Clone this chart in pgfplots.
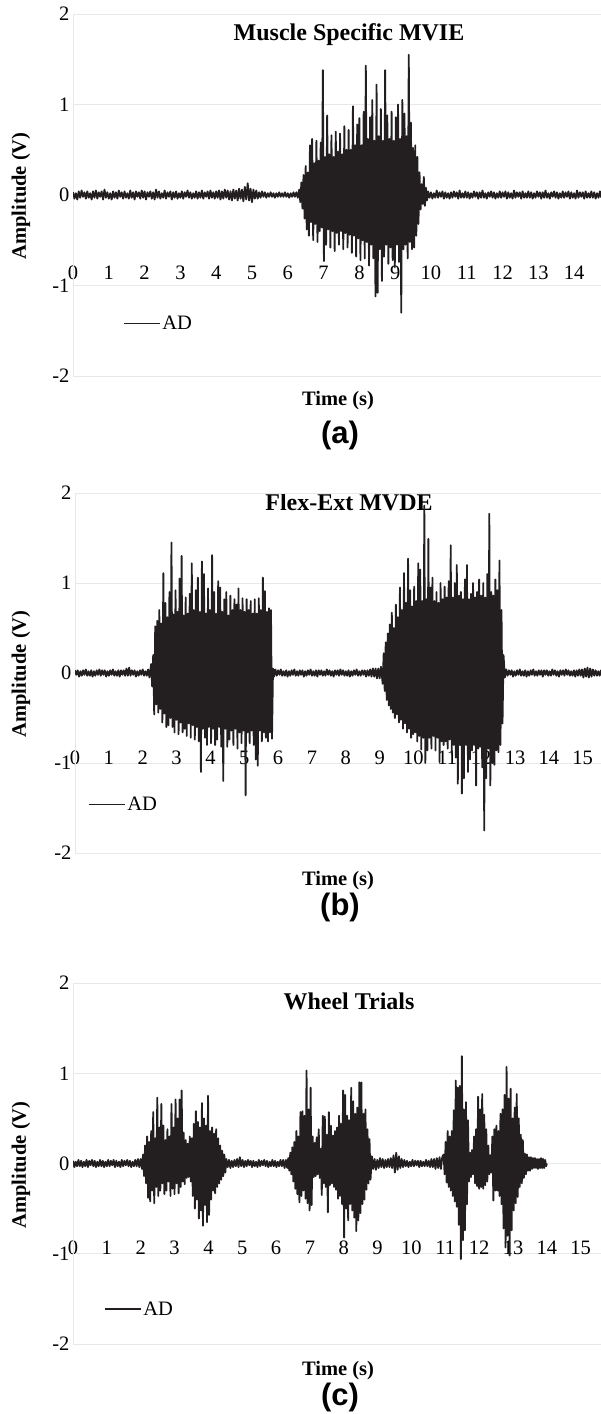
\documentclass[border=0pt]{standalone}
\usepackage{fontspec}
\setmainfont{Liberation Serif}
\newfontfamily\arialfont{Liberation Sans}
\usepackage{pgfplots}
\pgfplotsset{compat=1.18}
\definecolor{trace}{RGB}{35,31,32}
\definecolor{gridgray}{RGB}{232,232,232}

\pgfplotsset{
  emg/.style={
    scale only axis, anchor=south west,
    ymin=-2, ymax=2, xmin=0,
    ytick={-2,-1,0,1,2}, yticklabels={-2,-1,0,1,2},
    xtick={0,1,...,15}, xticklabels={0,1,2,3,4,5,6,7,8,9,10,11,12,13,14,15},
    ymajorgrids,
    major grid style={draw=gridgray, line width=1bp},
    axis line style={draw=none},
    major tick length=0pt, tick style={draw=none},
    ticklabel style={font=\fontsize{20.5bp}{20.5bp}\selectfont},
    xticklabel style={anchor=center},
    legend style={draw=none, fill=none, anchor=west, inner sep=0pt,
      font=\fontsize{20.5bp}{20.5bp}\selectfont},
    legend image code/.code={\draw[trace, line width=1.1bp] (0bp,0bp) -- (36bp,0bp);},
  },
  sig/.style={trace, line width=1.8bp, line join=round, mark=none},
}
\newcommand{\ttl}{\fontsize{24bp}{24bp}\selectfont\bfseries}
\newcommand{\lbl}{\fontsize{20.5bp}{20.5bp}\selectfont\bfseries}
\newcommand{\pnl}{\arialfont\fontsize{31bp}{31bp}\selectfont\bfseries}

\begin{document}
\begin{tikzpicture}
\useasboundingbox (0,0) rectangle (601bp,-1414bp);

% titles first so the trace is drawn over them
\node[anchor=base] at (349bp,-40bp) {\ttl Muscle Specific MVIE};
\node[anchor=base] at (349bp,-510bp) {\ttl Flex-Ext MVDE};
\node[anchor=base] at (349bp,-1009bp) {\ttl Wheel Trials};

% (a)
\begin{axis}[emg, at={(73bp,-376bp)}, width=528bp, height=362bp, xmax=14.75,
  xticklabel style={yshift=103.5bp},
  legend style={at={(0.0947,0.146)}}]
\draw[gridgray, line width=1bp] (axis cs:0,-2) -- (axis cs:0,2);
\addplot[sig] coordinates {
(0,0.03)(0.04,-0.04)(0.08,0.02)(0.12,-0.05)(0.16,0.04)(0.2,-0.03)(0.24,0.05)(0.28,-0.02)(0.32,0.03)(0.36,-0.04)
(0.4,0.04)(0.44,-0.03)(0.48,0.02)(0.52,-0.05)(0.56,0.04)(0.6,-0.03)(0.64,0.05)(0.68,-0.04)(0.72,0.03)(0.76,-0.02)
(0.8,0.04)(0.84,-0.05)(0.88,0.06)(0.92,-0.03)(0.96,0.03)(1,-0.04)(1.04,0.02)(1.08,-0.05)(1.12,0.04)(1.16,-0.03)
(1.2,0.03)(1.24,-0.04)(1.28,0.05)(1.32,-0.02)(1.36,0.03)(1.4,-0.04)(1.44,0.04)(1.48,-0.03)(1.52,0.02)(1.56,-0.04)
(1.6,0.05)(1.64,-0.03)(1.68,0.03)(1.72,-0.05)(1.76,0.04)(1.8,-0.02)(1.84,0.03)(1.88,-0.04)(1.92,0.05)(1.96,-0.03)
(2,0.04)(2.04,-0.05)(2.08,0.03)(2.12,-0.02)(2.16,0.04)(2.2,-0.04)(2.24,0.03)(2.28,-0.05)(2.32,0.06)(2.36,-0.03)
(2.4,0.04)(2.44,-0.04)(2.48,0.02)(2.52,-0.03)(2.56,0.05)(2.6,-0.04)(2.64,0.03)(2.68,-0.02)(2.72,0.04)(2.76,-0.05)
(2.8,0.03)(2.84,-0.03)(2.88,0.04)(2.92,-0.04)(2.96,0.02)(3,-0.03)(3.04,0.04)(3.08,-0.04)(3.12,0.03)(3.16,-0.02)
(3.2,0.05)(3.24,-0.03)(3.28,0.03)(3.32,-0.04)(3.36,0.02)(3.4,-0.03)(3.44,0.04)(3.48,-0.04)(3.52,0.03)(3.56,-0.03)
(3.6,0.05)(3.64,-0.04)(3.68,0.03)(3.72,-0.02)(3.76,0.04)(3.8,-0.04)(3.84,0.05)(3.88,-0.03)(3.92,0.03)(3.96,-0.04)
(4,0.04)(4.04,-0.03)(4.08,0.05)(4.12,-0.05)(4.16,0.04)(4.2,-0.04)(4.24,0.06)(4.28,-0.03)(4.32,0.05)(4.36,-0.05)
(4.4,0.04)(4.44,-0.06)(4.48,0.06)(4.52,-0.04)(4.56,0.05)(4.6,-0.06)(4.64,0.07)(4.68,-0.04)(4.72,0.06)(4.76,-0.07)
(4.8,0.09)(4.84,-0.05)(4.88,0.13)(4.92,-0.06)(4.96,0.07)(5,-0.08)(5.04,0.06)(5.08,-0.04)(5.12,0.05)(5.16,-0.04)
(5.2,0.03)(5.24,-0.03)(5.28,0.04)(5.32,-0.02)(5.36,0.03)(5.4,-0.03)(5.44,0.02)(5.48,-0.02)(5.52,0.03)(5.56,-0.02)
(5.6,0.02)(5.64,-0.03)(5.68,0.02)(5.72,-0.02)(5.76,0.03)(5.8,-0.02)(5.84,0.02)(5.88,-0.02)(5.92,0.03)(5.96,-0.02)
(6,0.02)(6.04,-0.03)(6.08,0.02)(6.12,-0.02)(6.16,0.03)(6.2,-0.02)(6.24,0.03)(6.28,-0.03)
(6.32,0.06)(6.35,-0.08)(6.38,0.14)(6.41,-0.15)(6.44,0.22)(6.47,-0.26)(6.5,0.32)(6.53,-0.38)(6.56,0.25)(6.59,-0.45)
(6.62,0.55)(6.65,-0.3)(6.68,0.62)(6.71,-0.5)(6.74,0.35)(6.77,-0.32)(6.8,0.6)(6.83,-0.52)(6.86,0.38)(6.89,-0.4)
(6.92,0.58)(6.95,-0.36)(6.98,1.38)(7.01,-0.73)(7.04,0.42)(7.07,-0.55)(7.1,0.88)(7.13,-0.38)(7.16,0.45)(7.19,-0.58)
(7.22,0.66)(7.25,-0.4)(7.28,0.42)(7.31,-0.62)(7.34,0.7)(7.37,-0.42)(7.4,0.48)(7.43,-0.55)(7.46,0.68)(7.49,-0.4)
(7.52,0.45)(7.55,-0.6)(7.58,0.76)(7.61,-0.42)(7.64,0.5)(7.67,-0.58)(7.7,0.72)(7.73,-0.44)(7.76,0.5)(7.79,-0.64)
(7.82,0.98)(7.85,-0.45)(7.88,0.55)(7.91,-0.68)(7.94,0.78)(7.97,-0.48)(8,0.85)(8.03,-0.72)(8.06,0.55)(8.09,-0.5)
(8.12,0.92)(8.15,-0.7)(8.18,1.43)(8.21,-0.52)(8.24,0.62)(8.27,-0.78)(8.3,0.86)(8.33,-0.55)(8.36,1.05)(8.39,-0.7)
(8.42,0.6)(8.45,-1.12)(8.48,1.22)(8.51,-1.08)(8.54,0.65)(8.57,-0.6)(8.6,0.95)(8.63,-0.95)(8.66,0.6)(8.69,-0.68)
(8.72,1.38)(8.75,-0.55)(8.78,0.88)(8.81,-0.76)(8.84,0.62)(8.87,-0.58)(8.9,0.92)(8.93,-0.72)(8.96,0.6)(8.99,-0.8)
(9.02,0.86)(9.05,-0.55)(9.08,1)(9.11,-0.74)(9.14,0.62)(9.17,-1.3)(9.2,1.05)(9.23,-0.6)(9.26,0.9)(9.29,-0.55)
(9.32,0.65)(9.35,-0.7)(9.38,1.55)(9.41,-0.52)(9.44,0.8)(9.47,-0.6)(9.5,0.52)(9.53,-0.58)(9.56,0.55)(9.59,-0.45)
(9.62,0.42)(9.65,-0.32)(9.68,0.25)(9.71,-0.16)(9.74,0.12)(9.77,-0.1)(9.8,0.2)(9.83,-0.12)(9.86,0.08)(9.89,-0.06)
(9.92,0.04)(9.96,-0.03)(10,0.03)(10.04,-0.04)(10.08,0.02)(10.12,-0.03)(10.16,0.05)(10.2,-0.03)(10.24,0.03)(10.28,-0.02)
(10.32,0.04)(10.36,-0.04)(10.4,0.03)(10.44,-0.03)(10.48,0.02)(10.52,-0.04)(10.56,0.03)(10.6,-0.03)(10.64,0.04)(10.68,-0.02)
(10.72,0.03)(10.76,-0.04)(10.8,0.05)(10.84,-0.03)(10.88,0.02)(10.92,-0.03)(10.96,0.04)(11,-0.03)(11.04,0.03)(11.08,-0.04)
(11.12,0.02)(11.16,-0.03)(11.2,0.04)(11.24,-0.02)(11.28,0.03)(11.32,-0.04)(11.36,0.03)(11.4,-0.03)(11.44,0.05)(11.48,-0.03)
(11.52,0.02)(11.56,-0.04)(11.6,0.03)(11.64,-0.02)(11.68,0.04)(11.72,-0.03)(11.76,0.03)(11.8,-0.04)(11.84,0.02)(11.88,-0.03)
(11.92,0.04)(11.96,-0.03)(12,0.03)(12.04,-0.02)(12.08,0.04)(12.12,-0.04)(12.16,0.03)(12.2,-0.03)(12.24,0.02)(12.28,-0.04)
(12.32,0.05)(12.36,-0.03)(12.4,0.03)(12.44,-0.02)(12.48,0.03)(12.52,-0.04)(12.56,0.04)(12.6,-0.03)(12.64,0.02)(12.68,-0.03)
(12.72,0.04)(12.76,-0.03)(12.8,0.03)(12.84,-0.04)(12.88,0.02)(12.92,-0.03)(12.96,0.04)(13,-0.02)(13.04,0.03)(13.08,-0.04)
(13.12,0.03)(13.16,-0.03)(13.2,0.05)(13.24,-0.03)(13.28,0.02)(13.32,-0.04)(13.36,0.03)(13.4,-0.02)(13.44,0.04)(13.48,-0.03)
(13.52,0.03)(13.56,-0.04)(13.6,0.02)(13.64,-0.03)(13.68,0.04)(13.72,-0.03)(13.76,0.03)(13.8,-0.02)(13.84,0.04)(13.88,-0.04)
(13.92,0.03)(13.96,-0.03)(14,0.02)(14.04,-0.04)(14.08,0.05)(14.12,-0.03)(14.16,0.03)(14.2,-0.02)(14.24,0.03)(14.28,-0.04)
(14.32,0.04)(14.36,-0.03)(14.4,0.02)(14.44,-0.03)(14.48,0.04)(14.52,-0.03)(14.56,0.03)(14.6,-0.04)(14.64,0.02)(14.68,-0.03)
(14.72,0.04)(14.76,-0.03)
};
\addlegendentry{AD}
\end{axis}

% (b)
\begin{axis}[emg, at={(75bp,-853bp)}, width=526bp, height=360bp, xmax=15.54,
  xticklabel style={yshift=95.5bp},
  legend style={at={(0.0247,0.136)}}]
\draw[gridgray, line width=1bp] (axis cs:0,-2) -- (axis cs:0,2);
\addplot[sig] coordinates {
(0,0.03)(0.04,-0.02)(0.08,0.03)(0.12,-0.04)(0.16,0.02)(0.2,-0.03)(0.24,0.03)(0.28,-0.02)(0.32,0.04)(0.36,-0.03)
(0.4,0.02)(0.44,-0.03)(0.48,0.03)(0.52,-0.04)(0.56,0.02)(0.6,-0.03)(0.64,0.03)(0.68,-0.02)(0.72,0.04)(0.76,-0.03)
(0.8,0.03)(0.84,-0.02)(0.88,0.03)(0.92,-0.04)(0.96,0.02)(1,-0.03)(1.04,0.03)(1.08,-0.02)(1.12,0.04)(1.16,-0.03)
(1.2,0.02)(1.24,-0.03)(1.28,0.03)(1.32,-0.04)(1.36,0.03)(1.4,-0.02)(1.44,0.03)(1.48,-0.03)(1.52,0.05)(1.56,-0.03)
(1.6,0.06)(1.64,-0.03)(1.68,0.03)(1.72,-0.02)(1.76,0.03)(1.8,-0.04)(1.84,0.02)(1.88,-0.03)(1.92,0.03)(1.96,-0.02)
(2,0.04)(2.04,-0.03)(2.08,0.02)(2.12,-0.03)(2.16,0.04)(2.2,-0.05)
(2.25,0.1)(2.28,-0.15)(2.31,0.2)(2.34,-0.46)(2.37,0.52)(2.4,-0.35)(2.43,0.58)(2.46,-0.44)(2.49,0.7)(2.52,-0.4)
(2.55,0.55)(2.58,-0.55)(2.61,1.11)(2.64,-0.45)(2.67,0.78)(2.7,-0.6)(2.73,0.62)(2.76,-0.58)(2.79,0.9)(2.82,-0.5)
(2.85,1.45)(2.88,-0.6)(2.91,0.65)(2.94,-0.66)(2.97,0.92)(3,-0.52)(3.03,0.68)(3.06,-0.68)(3.09,1.05)(3.12,-0.55)
(3.15,1.3)(3.18,-0.66)(3.21,0.64)(3.24,-0.62)(3.27,0.84)(3.3,-0.7)(3.33,0.66)(3.36,-0.56)(3.39,0.88)(3.42,-0.72)
(3.45,1.22)(3.48,-0.58)(3.51,0.7)(3.54,-0.74)(3.57,0.92)(3.6,-0.6)(3.63,1.06)(3.66,-0.76)(3.69,0.68)(3.72,-1.1)
(3.75,1.24)(3.78,-0.62)(3.81,1.1)(3.84,-0.72)(3.87,0.66)(3.9,-0.8)(3.93,0.94)(3.96,-0.6)(3.99,0.7)(4.02,-0.78)
(4.05,1.31)(4.08,-0.62)(4.11,0.9)(4.14,-0.8)(4.17,0.66)(4.2,-0.74)(4.23,1.02)(4.26,-0.6)(4.29,0.95)(4.32,-0.82)
(4.35,0.68)(4.38,-1.2)(4.41,0.82)(4.44,-0.62)(4.47,0.9)(4.5,-0.82)(4.53,0.64)(4.56,-0.74)(4.59,0.86)(4.62,-0.64)
(4.65,0.7)(4.68,-0.8)(4.71,0.82)(4.74,-0.62)(4.77,0.76)(4.8,-0.84)(4.83,0.94)(4.86,-0.66)(4.89,0.7)(4.92,-0.78)
(4.95,0.83)(4.98,-0.64)(5.01,0.68)(5.04,-1.36)(5.07,0.82)(5.1,-0.66)(5.13,0.7)(5.16,-0.78)(5.19,0.8)(5.22,-0.64)
(5.25,0.66)(5.28,-0.8)(5.31,0.82)(5.34,-0.96)(5.37,0.66)(5.4,-1.03)(5.43,0.83)(5.46,-0.64)(5.49,0.7)(5.52,-0.76)
(5.55,1.06)(5.58,-0.66)(5.61,0.91)(5.64,-0.72)(5.67,0.68)(5.7,-0.76)(5.73,0.72)(5.76,-0.66)(5.79,0.7)(5.82,-0.73)
(5.85,0.05)
(5.88,-0.04)(5.92,0.04)(5.96,-0.03)(6,0.03)(6.04,-0.02)(6.08,0.04)(6.12,-0.03)(6.16,0.02)(6.2,-0.03)(6.24,0.03)
(6.28,-0.04)(6.32,0.02)(6.36,-0.03)(6.4,0.03)(6.44,-0.02)(6.48,0.04)(6.52,-0.03)(6.56,0.02)(6.6,-0.03)(6.64,0.03)
(6.68,-0.02)(6.72,0.03)(6.76,-0.04)(6.8,0.02)(6.84,-0.03)(6.88,0.03)(6.92,-0.02)(6.96,0.04)(7,-0.03)(7.04,0.02)
(7.08,-0.03)(7.12,0.03)(7.16,-0.04)(7.2,0.03)(7.24,-0.02)(7.28,0.03)(7.32,-0.03)(7.36,0.02)(7.4,-0.03)(7.44,0.04)
(7.48,-0.02)(7.52,0.03)(7.56,-0.03)(7.6,0.02)(7.64,-0.04)(7.68,0.03)(7.72,-0.02)(7.76,0.03)(7.8,-0.03)(7.84,0.04)
(7.88,-0.02)(7.92,0.03)(7.96,-0.03)(8,0.02)(8.04,-0.03)(8.08,0.03)(8.12,-0.04)(8.16,0.02)(8.2,-0.03)(8.24,0.03)
(8.28,-0.02)(8.32,0.04)(8.36,-0.03)(8.4,0.02)(8.44,-0.03)(8.48,0.03)(8.52,-0.02)(8.56,0.03)(8.6,-0.04)(8.64,0.03)
(8.68,-0.03)(8.72,0.04)(8.76,-0.04)(8.8,0.05)(8.84,-0.04)(8.88,0.05)(8.92,-0.06)(8.96,0.05)(9,-0.06)(9.04,0.07)
(9.09,-0.12)(9.12,0.22)(9.15,-0.2)(9.18,0.34)(9.21,-0.3)(9.24,0.44)(9.27,-0.36)(9.3,0.54)(9.33,-0.4)(9.36,0.67)
(9.39,-0.44)(9.42,0.5)(9.45,-0.5)(9.48,0.76)(9.51,-0.46)(9.54,0.62)(9.57,-0.55)(9.6,0.95)(9.63,-0.52)(9.66,0.7)
(9.69,-0.62)(9.72,1.11)(9.75,-0.56)(9.78,0.78)(9.81,-0.66)(9.84,1.27)(9.87,-0.62)(9.9,0.92)(9.93,-0.72)(9.96,0.74)
(9.99,-0.68)(10.02,0.96)(10.05,-0.66)(10.08,0.8)(10.11,-0.76)(10.14,1.22)(10.17,-0.7)(10.2,1.15)(10.23,-0.85)(10.26,0.8)
(10.29,-0.72)(10.32,1.86)(10.35,-1)(10.38,0.82)(10.41,-0.86)(10.44,1.49)(10.47,-0.72)(10.5,0.95)(10.53,-0.84)(10.56,1.06)
(10.59,-0.7)(10.62,0.8)(10.65,-0.86)(10.68,0.9)(10.71,-0.72)(10.74,0.78)(10.77,-0.99)(10.8,1)(10.83,-0.76)(10.86,0.82)
(10.89,-0.8)(10.92,0.96)(10.95,-0.76)(10.98,0.84)(11.01,-0.84)(11.04,1.02)(11.07,-0.74)(11.1,1.42)(11.13,-0.9)(11.16,0.84)
(11.19,-0.8)(11.22,1)(11.25,-0.94)(11.28,1.2)(11.31,-1.23)(11.34,0.86)(11.37,-0.8)(11.4,0.9)(11.43,-1.34)(11.46,0.82)
(11.49,-1.17)(11.52,1.04)(11.55,-0.8)(11.58,1.2)(11.61,-1.1)(11.64,0.82)(11.67,-0.96)(11.7,0.88)(11.73,-0.86)(11.76,1)
(11.79,-0.8)(11.82,0.84)(11.85,-1.25)(11.88,0.9)(11.91,-0.84)(11.94,1.04)(11.97,-0.82)(12,0.86)(12.03,-1.05)(12.06,1)
(12.09,-1.75)(12.12,0.84)(12.15,-1.17)(12.18,1.1)(12.21,-0.84)(12.24,1.77)(12.27,-1.25)(12.3,0.9)(12.33,-1)(12.36,0.86)
(12.39,-1.02)(12.42,1.04)(12.45,-0.86)(12.48,0.92)(12.51,-0.88)(12.54,1.25)(12.57,-0.8)(12.6,0.7)(12.63,-0.56)(12.66,0.2)
(12.7,-0.05)(12.74,0.04)(12.78,-0.03)(12.82,0.03)(12.86,-0.02)(12.9,0.03)(12.94,-0.04)(12.98,0.02)(13.02,-0.03)(13.06,0.03)
(13.1,-0.02)(13.14,0.04)(13.18,-0.03)(13.22,0.02)(13.26,-0.03)(13.3,0.03)(13.34,-0.04)(13.38,0.02)(13.42,-0.03)(13.46,0.03)
(13.5,-0.02)(13.54,0.04)(13.58,-0.03)(13.62,0.02)(13.66,-0.03)(13.7,0.03)(13.74,-0.02)(13.78,0.03)(13.82,-0.04)(13.86,0.03)
(13.9,-0.02)(13.94,0.03)(13.98,-0.03)(14.02,0.02)(14.06,-0.03)(14.1,0.04)(14.14,-0.02)(14.18,0.03)(14.22,-0.03)(14.26,0.02)
(14.3,-0.04)(14.34,0.03)(14.38,-0.02)(14.42,0.03)(14.46,-0.03)(14.5,0.04)(14.54,-0.02)(14.58,0.03)(14.62,-0.03)(14.66,0.02)
(14.7,-0.03)(14.74,0.03)(14.78,-0.04)(14.82,0.03)(14.86,-0.03)(14.9,0.04)(14.94,-0.03)(14.98,0.04)(15.02,-0.05)(15.06,0.05)
(15.1,-0.04)(15.14,0.06)(15.18,-0.05)(15.22,0.05)(15.26,-0.04)(15.3,0.04)(15.34,-0.03)(15.38,0.03)(15.42,-0.03)(15.46,0.02)
(15.5,-0.03)(15.54,0.03)(15.58,-0.03)
};
\addlegendentry{AD}
\end{axis}

% (c)
\begin{axis}[emg, at={(73bp,-1344bp)}, width=528bp, height=361bp, xmax=15.6,
  xticklabel style={yshift=96.5bp},
  legend style={at={(0.0587,0.097)}}]
\draw[gridgray, line width=1bp] (axis cs:0,-2) -- (axis cs:0,2);
\addplot[sig] coordinates {
(0,0.03)(0.04,-0.04)(0.08,0.02)(0.12,-0.03)(0.16,0.04)(0.2,-0.03)(0.24,0.03)(0.28,-0.04)(0.32,0.02)(0.36,-0.03)
(0.4,0.04)(0.44,-0.04)(0.48,0.03)(0.52,-0.02)(0.56,0.04)(0.6,-0.03)(0.64,0.03)(0.68,-0.04)(0.72,0.02)(0.76,-0.03)
(0.8,0.04)(0.84,-0.03)(0.88,0.03)(0.92,-0.04)(0.96,0.02)(1,-0.03)(1.04,0.04)(1.08,-0.03)(1.12,0.03)(1.16,-0.02)
(1.2,0.04)(1.24,-0.04)(1.28,0.03)(1.32,-0.03)(1.36,0.02)(1.4,-0.04)(1.44,0.04)(1.48,-0.03)(1.52,0.03)(1.56,-0.02)
(1.6,0.04)(1.64,-0.03)(1.68,0.03)(1.72,-0.04)(1.76,0.02)(1.8,-0.03)(1.84,0.04)(1.88,-0.03)(1.92,0.05)(1.96,-0.04)
(2,0.05)(2.04,-0.06)
(2.07,0.1)(2.1,-0.14)(2.13,0.2)(2.16,-0.22)(2.19,0.3)(2.22,-0.38)(2.25,0.24)(2.28,-0.42)(2.31,0.36)(2.34,-0.3)
(2.37,0.57)(2.4,-0.44)(2.43,0.28)(2.46,-0.26)(2.49,0.73)(2.52,-0.36)(2.55,0.4)(2.58,-0.3)(2.61,0.66)(2.64,-0.22)
(2.67,0.42)(2.7,-0.34)(2.73,0.26)(2.76,-0.3)(2.79,0.38)(2.82,-0.2)(2.85,0.3)(2.88,-0.36)(2.91,0.66)(2.94,-0.28)
(2.97,0.4)(3,-0.34)(3.03,0.71)(3.06,-0.22)(3.09,0.5)(3.12,-0.33)(3.15,0.71)(3.18,-0.26)(3.21,0.81)(3.24,-0.2)
(3.27,0.34)(3.3,-0.23)(3.33,0.26)(3.36,-0.16)(3.39,0.22)(3.42,-0.15)(3.45,0.3)(3.48,-0.2)(3.51,0.28)(3.54,-0.36)
(3.57,0.44)(3.6,-0.5)(3.63,0.58)(3.66,-0.4)(3.69,0.46)(3.72,-0.61)(3.75,0.4)(3.78,-0.52)(3.81,0.67)(3.84,-0.69)
(3.87,0.5)(3.9,-0.46)(3.93,0.42)(3.96,-0.65)(3.99,0.75)(4.02,-0.57)(4.05,0.36)(4.08,-0.4)(4.11,0.4)(4.14,-0.3)
(4.17,0.33)(4.2,-0.33)(4.23,0.38)(4.26,-0.26)(4.29,0.28)(4.32,-0.22)(4.35,0.2)(4.38,-0.18)(4.41,0.14)(4.44,-0.14)
(4.47,0.1)(4.5,-0.1)
(4.53,0.05)(4.57,-0.04)(4.61,0.04)(4.65,-0.05)(4.69,0.03)(4.73,-0.04)(4.77,0.04)(4.81,-0.03)(4.85,0.05)(4.89,-0.04)
(4.93,0.07)(4.97,-0.03)(5.01,0.04)(5.05,-0.04)(5.09,0.03)(5.13,-0.03)(5.17,0.04)(5.21,-0.02)(5.25,0.03)(5.29,-0.04)
(5.33,0.03)(5.37,-0.03)(5.41,0.02)(5.45,-0.04)(5.49,0.04)(5.53,-0.03)(5.57,0.03)(5.61,-0.02)(5.65,0.04)(5.69,-0.03)
(5.73,0.03)(5.77,-0.04)(5.81,0.02)(5.85,-0.03)(5.89,0.04)(5.93,-0.03)(5.97,0.03)(6.01,-0.04)(6.05,0.02)(6.09,-0.03)
(6.13,0.04)(6.17,-0.03)(6.21,0.04)(6.25,-0.05)(6.29,0.04)(6.33,-0.05)
(6.36,0.06)(6.39,-0.08)(6.42,0.12)(6.45,-0.12)(6.48,0.18)(6.51,-0.2)(6.54,0.24)(6.57,-0.28)(6.6,0.36)(6.63,-0.34)
(6.66,0.3)(6.69,-0.43)(6.72,0.57)(6.75,-0.36)(6.78,0.58)(6.81,-0.3)(6.84,0.53)(6.87,-0.39)(6.9,1.03)(6.93,-0.44)
(6.96,0.6)(6.99,-0.52)(7.02,0.84)(7.05,-0.46)(7.08,0.3)(7.11,-0.15)(7.14,0.23)(7.17,-0.14)(7.2,0.29)(7.23,-0.12)
(7.26,0.38)(7.29,-0.16)(7.32,0.16)(7.35,-0.35)(7.38,0.53)(7.41,-0.22)(7.44,0.52)(7.47,-0.26)(7.5,0.32)(7.53,-0.54)
(7.56,0.57)(7.59,-0.24)(7.62,0.42)(7.65,-0.22)(7.68,0.31)(7.71,-0.26)(7.74,0.36)(7.77,-0.29)(7.8,0.4)(7.83,-0.39)
(7.86,0.53)(7.89,-0.36)(7.92,0.44)(7.95,-0.45)(7.98,0.81)(8.01,-0.82)(8.04,0.76)(8.07,-0.5)(8.1,0.53)(8.13,-0.63)
(8.16,0.48)(8.19,-0.45)(8.22,0.84)(8.25,-0.52)(8.28,0.69)(8.31,-0.6)(8.34,0.55)(8.37,-0.75)(8.4,0.62)(8.43,-0.63)
(8.46,0.9)(8.49,-0.55)(8.52,0.9)(8.55,-0.45)(8.58,0.55)(8.61,-0.4)(8.64,0.6)(8.67,-0.29)(8.7,0.38)(8.73,-0.22)
(8.76,0.27)(8.79,-0.18)
(8.83,0.08)(8.87,-0.06)(8.91,0.05)(8.95,-0.07)(8.99,0.04)(9.03,-0.05)(9.07,0.06)(9.11,-0.04)(9.15,0.05)(9.19,-0.05)
(9.23,0.04)(9.27,-0.04)(9.31,0.05)(9.35,-0.04)(9.39,0.06)(9.43,-0.05)(9.47,0.09)(9.51,-0.1)(9.55,0.12)(9.59,-0.07)
(9.63,0.08)(9.67,-0.05)(9.71,0.05)(9.75,-0.04)(9.79,0.04)(9.83,-0.03)(9.87,0.03)(9.91,-0.04)(9.95,0.02)(9.99,-0.03)
(10.03,0.04)(10.07,-0.03)(10.11,0.03)(10.15,-0.02)(10.19,0.03)(10.23,-0.04)(10.27,0.03)(10.31,-0.03)(10.35,0.02)(10.39,-0.03)
(10.43,0.04)(10.47,-0.03)(10.51,0.03)(10.55,-0.04)(10.59,0.05)(10.63,-0.04)(10.67,0.05)(10.71,-0.06)(10.75,0.06)(10.79,-0.05)
(10.83,0.07)(10.87,-0.06)(10.91,0.07)
(10.95,0.1)(10.98,-0.12)(11.01,0.24)(11.04,-0.21)(11.07,0.36)(11.1,-0.26)(11.13,0.3)(11.16,-0.3)(11.19,0.36)(11.22,-0.36)
(11.25,0.59)(11.28,-0.42)(11.31,0.92)(11.34,-0.48)(11.37,0.84)(11.4,-0.68)(11.43,0.86)(11.46,-1.06)(11.49,1.19)(11.52,-0.85)
(11.55,0.6)(11.58,-0.74)(11.61,0.68)(11.64,-0.45)(11.67,0.48)(11.7,-0.2)(11.73,0.12)(11.76,-0.15)(11.79,0.15)(11.82,-0.12)
(11.85,0.3)(11.88,-0.22)(11.91,0.38)(11.94,-0.25)(11.97,0.74)(12,-0.28)(12.03,0.6)(12.06,-0.26)(12.09,0.77)(12.12,-0.28)
(12.15,0.54)(12.18,-0.24)(12.21,0.38)(12.24,-0.2)(12.27,0.2)(12.3,-0.12)(12.33,0.09)(12.36,-0.1)(12.39,0.3)(12.42,-0.41)
(12.45,0.38)(12.48,-0.3)(12.51,0.42)(12.54,-0.3)(12.57,0.36)(12.6,-0.36)(12.63,0.55)(12.66,-0.45)(12.69,0.6)(12.72,-0.72)
(12.75,0.76)(12.78,-0.93)(12.81,1.07)(12.84,-0.8)(12.87,0.72)(12.9,-1.02)(12.93,0.83)(12.96,-0.74)(12.99,0.5)(13.02,-0.52)
(13.05,0.62)(13.08,-0.44)(13.11,0.77)(13.14,-0.37)(13.17,0.5)(13.2,-0.26)(13.23,0.32)(13.26,-0.22)(13.29,0.26)(13.32,-0.16)
(13.35,0.11)(13.38,-0.12)(13.41,0.1)(13.44,-0.08)(13.47,0.07)(13.5,-0.08)(13.53,0.07)(13.56,-0.06)(13.59,0.06)(13.62,-0.05)
(13.65,0.06)(13.68,-0.05)(13.71,0.05)(13.74,-0.06)(13.77,0.05)(13.8,-0.05)(13.83,0.06)(13.86,-0.05)(13.89,0.05)(13.92,-0.05)
(13.95,0.04)(13.98,-0.03)(14,0)
};
\addlegendentry{AD}
\end{axis}

% axis titles and panel letters
\node[rotate=90] at (21bp,-196bp) {\lbl Amplitude (V)};
\node[rotate=90] at (21bp,-674bp) {\lbl Amplitude (V)};
\node[rotate=90] at (21bp,-1165bp) {\lbl Amplitude (V)};
\node[anchor=base] at (338bp,-405bp) {\lbl Time (s)};
\node[anchor=base] at (338bp,-885bp) {\lbl Time (s)};
\node[anchor=base] at (338bp,-1375bp) {\lbl Time (s)};
\node[anchor=base] at (340bp,-443bp) {\pnl (a)};
\node[anchor=base] at (340bp,-915bp) {\pnl (b)};
\node[anchor=base] at (340bp,-1405bp) {\pnl (c)};
\end{tikzpicture}
\end{document}
